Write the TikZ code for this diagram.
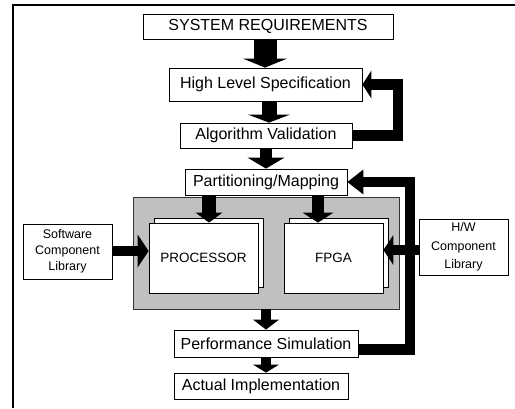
\documentclass[tikz,border=0pt]{standalone}
\usepackage{fontspec}
\setmainfont{Liberation Sans}
\usetikzlibrary{arrows.meta}
\definecolor{panel}{RGB}{192,192,192}
\tikzset{
  box/.style={draw, line width=0.8pt, fill=white, inner sep=0pt, font=\fontsize{16}{19}\selectfont},
  pagebox/.style={draw, line width=0.8pt, fill=white, inner sep=0pt, font=\fontsize{13.5}{16}\selectfont},
  lib/.style={draw, line width=0.8pt, fill=white, inner sep=0pt, align=center},
  blk/.style n args={3}{line width=#1pt, -{Triangle[width=#2pt,length=#3pt,line width=0pt]}},
  loopline/.style 2 args={line width=10.5pt, line join=miter, -{Triangle[width=#1pt,length=#2pt,line width=0pt]}},
}
\begin{document}
\begin{tikzpicture}[x=1pt,y=-1pt]
\useasboundingbox (0,0) rectangle (515,408);
\draw[line width=1.2pt] (13,408) -- (13,5) -- (515,5);

\node[box, minimum width=250pt, minimum height=25pt] (sr) at (268,26.5) {SYSTEM REQUIREMENTS};
\node[box, minimum width=193pt, minimum height=33pt] (hls) at (265.5,84.5) {High Level Specification};
\node[box, minimum width=172pt, minimum height=25pt] (av) at (266,135.5) {Algorithm Validation};
\node[box, minimum width=162pt, minimum height=26pt] (pm) at (266,182) {Partitioning/Mapping};
\node[draw=black!80, line width=0.8pt, fill=panel, minimum width=266pt, minimum height=112pt, inner sep=0pt] (hwsw) at (266,253) {};

\node[pagebox, minimum width=109pt, minimum height=69pt] (procback) at (208.5,252.5) {};
\node[pagebox, minimum width=109pt, minimum height=70pt] (proc) at (203.5,258) {PROCESSOR};
\node[pagebox, minimum width=99pt, minimum height=69pt] (fpgaback) at (338.5,252.5) {};
\node[pagebox, minimum width=99pt, minimum height=70pt] (fpga) at (333.5,258) {FPGA};

\node[lib, minimum width=89pt, minimum height=55pt, font=\fontsize{12.5}{16}\selectfont] (scl) at (67.5,251.5) {Software\\Component\\Library};
\node[lib, minimum width=89pt, minimum height=56pt, font=\fontsize{12.5}{18.5}\selectfont] (hwl) at (463.5,247) {H/W\\Component\\Library};

\node[box, minimum width=184pt, minimum height=27pt] (ps) at (266,343.5) {Performance Simulation};
\node[box, minimum width=174pt, minimum height=26pt] (ai) at (261,386) {Actual Implementation};

% main flow
\coordinate (xa) at (265,0);
\coordinate (xb) at (269,0);
\coordinate (xc) at (266,0);
\coordinate (xp) at (209,0);
\coordinate (xf) at (318,0);
\draw[blk={23}{44}{9}] (sr.south -| xa) -- (hls.north -| xa);
\draw[blk={15}{42}{8}] (hls.south -| xb) -- (av.north -| xb);
\draw[blk={12}{37}{11}] (av.south -| xc) -- (pm.north -| xc);
\draw[blk={14}{27}{10}] (pm.south -| xp) -- (proc.north -| xp);
\draw[blk={12}{31}{10}] (pm.south -| xf) -- (fpga.north -| xf);
\draw[blk={10}{26}{10}] (hwsw.south -| xc) -- (ps.north -| xc);
\draw[blk={10}{26}{8}] (ps.south -| xc) -- (ai.north -| xc);

% library inputs
\coordinate (ys) at (0,251);
\coordinate (yh) at (0,250);
\draw[blk={10}{33}{11}] (scl.east |- ys) -- (proc.west |- ys);

% feedback loops
\coordinate (fa) at (398,0);
\coordinate (fb) at (410,0);
\draw[loopline={28}{9}] (av.east) -- (av.east -| fa) -- (fa |- hls.east) -- (hls.east);
\draw[loopline={25}{16}] ([yshift=-6pt]ps.east) -- ([yshift=-6pt]ps.east -| fb) -- (fb |- pm.east) -- (pm.east);

\draw[blk={10}{30}{10}] (hwl.west |- yh) -- (fpga.east |- yh);
\end{tikzpicture}
\end{document}
